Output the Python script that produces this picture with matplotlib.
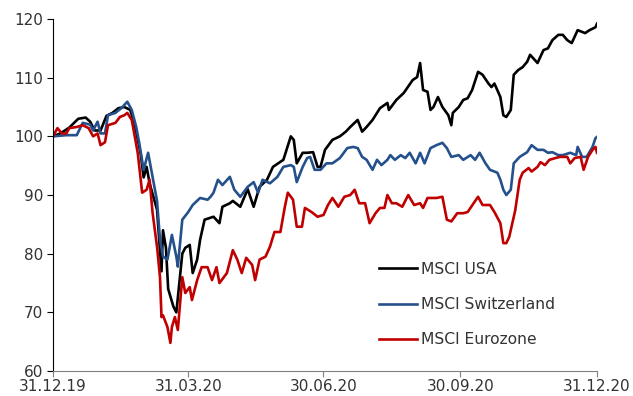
import numpy as np
import pandas as pd
import matplotlib
matplotlib.use("Agg")
import matplotlib.pyplot as plt
import matplotlib.dates as mdates

start = pd.Timestamp("2019-12-31")

# days after 31.12.19 and index level (31.12.19 = 100)
usa_days = [0, 5, 11, 17, 22, 25, 28, 32, 36, 40,
            44, 48, 52, 55, 59, 61, 63, 65, 70, 73,
            74, 76, 77.5, 81, 83, 87, 89, 92, 94, 97,
            99, 102, 108, 112, 114, 119, 121, 126, 131, 135,
            139, 144, 148, 155, 160, 162, 164, 168, 171, 175,
            178, 180, 183, 188, 193, 197, 200, 205, 208, 211,
            215, 220, 225, 226, 231, 236, 242, 245, 247, 249,
            252, 254, 256, 259, 262, 266, 268, 269, 273, 276,
            279, 282, 286, 289, 293, 295, 297, 301, 303, 305,
            308, 310, 313, 316, 319, 321, 326, 330, 333, 336,
            340, 343, 346, 349, 353, 358, 361, 365, 366]
usa = [100, 100.5, 101.5, 103, 103.2, 102.5, 101, 101, 103.5, 104,
       104.8, 105, 104.5, 102, 97, 93, 94.8, 92, 87.5, 77,
       84, 81, 74, 71, 70, 80, 81, 81.5, 76.7, 79,
       82.4, 85.8, 86.3, 85.2, 88, 88.6, 89, 88, 91, 88,
       91.4, 92.6, 94.8, 96, 100, 99.4, 95.4, 97.2, 97.2, 97.3,
       94.8, 94.8, 97.7, 99.4, 100, 100.8, 101.6, 102.8, 100.8, 101.6,
       102.8, 104.8, 105.7, 104.5, 106.2, 107.4, 109.6, 110.1, 112.5, 107.9,
       107.6, 104.5, 105, 106.7, 105, 103.6, 101.9, 104, 105, 106.2,
       106.5, 107.9, 111, 110.5, 109, 108.4, 109, 106.7, 103.6, 103.3,
       104.5, 110.5, 111.3, 111.8, 112.7, 113.9, 112.5, 114.7, 115, 116.4,
       117.3, 117.3, 116.4, 115.9, 118.1, 117.6, 118.1, 118.6, 119.2]

swiss_days = [0, 9, 16, 20, 25, 27, 30, 32, 35, 37,
              42, 46, 50, 53, 56, 58, 61, 64, 67, 70,
              72, 74, 77, 80, 83, 84, 87, 91, 94, 99,
              104, 106, 108, 111, 114, 119, 122, 126, 131,
              135, 138, 141, 146, 151, 155, 160, 162, 164, 168,
              171, 173, 176, 180, 184, 188, 193, 198, 202, 205,
              208, 211, 215, 218, 221, 225, 227, 230, 234, 237,
              240, 244, 247, 250, 254, 258, 262, 265, 268, 273,
              276, 281, 284, 287, 291, 294, 299, 301, 303, 305,
              308, 310, 314, 319, 322, 326, 330, 333, 336, 340,
              343, 348, 352, 353, 356, 359, 363, 365, 366]
swiss = [100, 100.2, 100.2, 102.3, 102, 101, 102.5, 100.5, 100.5, 103.6,
         104, 104.8, 105.9, 104.5, 101.6, 98.9, 94.3, 97.2, 93.1, 89,
         82.4, 79.5, 79, 83.2, 79.5, 77.8, 85.8, 87.1, 88.3, 89.5,
         89.2, 89.7, 90.4, 92.6, 91.7, 93.1, 90.9, 89.7, 91.4,
         92.2, 90.4, 92.6, 92, 93.1, 94.8, 95.1, 94.8, 92.2, 94.8,
         96.3, 96.5, 94.3, 94.3, 95.4, 95.4, 96.3, 98, 98.2, 98,
         96.5, 96, 94.3, 96, 95.1, 96, 96.8, 96, 96.8, 96.3,
         97.2, 95.4, 97.2, 95.4, 98, 98.5, 98.9, 98, 96.5, 96.8,
         96, 96.8, 96, 97.2, 95.4, 94.3, 93.8, 92.6, 90.9, 90,
         90.9, 95.4, 96.5, 97.3, 98.5, 97.7, 97.7, 97.2, 97.3, 96.8,
         96.8, 97.2, 96.8, 98.2, 96.5, 96.5, 98.2, 99.7, 99.9]

euro_days = [0, 3, 6, 9, 11, 16, 20, 24, 27, 30,
             32, 35, 37, 42, 45, 48, 50, 53, 55, 57,
             60, 63, 65, 67, 70, 72, 73, 74, 77, 79,
             80, 82, 84, 87, 89, 92, 93.5, 97, 100, 104,
             107, 110, 112, 117, 121, 124, 127, 130, 134, 136,
             139, 143, 146, 149, 153, 156, 158, 161.5, 164, 167.5,
             169.5, 174, 178, 182, 185, 188, 192, 196, 200, 203,
             206, 210, 213, 217, 220, 223, 225, 228, 231, 235,
             239, 243, 247, 249, 252, 258, 262, 265, 268, 272,
             276, 279, 283, 286, 289, 294, 297, 301, 303, 305,
             307, 311, 314, 316, 320, 322, 326, 328, 331, 334,
             338, 341, 346, 348, 351, 355, 357, 360, 363, 365, 366]
euro = [100, 101.4, 100.5, 100.5, 101.4, 101.6, 101.9, 101.4, 100, 100.5,
        98.5, 99, 101.9, 102.3, 103.3, 103.6, 104, 102.8, 100, 97.2,
        90.4, 90.9, 92.6, 87, 81.2, 76, 69.2, 69.5, 67.5, 64.8,
        67.5, 69.2, 67, 76, 73.3, 74.3, 72.1, 75.5, 77.7, 77.7,
        75.5, 77.7, 75, 76.7, 80.6, 79, 76.7, 79.3, 78.1, 75.5,
        79, 79.5, 81.2, 83.7, 83.7, 88, 90.4, 89.2, 84.6, 84.6,
        87.8, 87.1, 86.3, 86.6, 88.3, 89.5, 88, 89.7, 90, 90.9,
        88.6, 88.6, 85.2, 86.9, 87.8, 87.8, 90, 88.6, 88.6, 88,
        90, 88.3, 88.6, 87.8, 89.5, 89.5, 89.7, 85.8, 85.5, 86.9,
        86.9, 87.1, 88.6, 89.7, 88.3, 88.3, 87.1, 85.2, 81.8, 81.8,
        82.9, 87.4, 92.6, 93.8, 94.6, 94, 94.8, 95.6, 95.1, 96,
        96.3, 96.5, 96.5, 95.4, 96.3, 96.5, 94.3, 96.5, 97.7, 98.2, 97.2]

tick_dates = ["2019-12-31", "2020-03-31", "2020-06-30", "2020-09-30", "2020-12-31"]


def to_dates(days):
    return start + pd.to_timedelta(np.array(days, dtype=float), unit="D")


plt.rcParams["font.family"] = "DejaVu Sans"
fig = plt.figure(figsize=(6.33, 3.96), dpi=100)
ax = fig.add_axes([0.0837, 0.063, 0.8594, 0.889])

ax.plot(to_dates(usa_days), usa, color="black", lw=1.9, label="MSCI USA")
ax.plot(to_dates(swiss_days), swiss, color="#24508C", lw=1.9, label="MSCI Switzerland")
ax.plot(to_dates(euro_days), euro, color="#C00000", lw=1.9, label="MSCI Eurozone")

ax.set_ylim(60, 120)
ax.set_yticks(range(60, 121, 10))
ax.set_xlim(pd.Timestamp(tick_dates[0]), pd.Timestamp(tick_dates[-1]))
ax.set_xticks([pd.Timestamp(d) for d in tick_dates])
ax.xaxis.set_major_formatter(mdates.DateFormatter("%d.%m.%y"))

for s in ["top", "right"]:
    ax.spines[s].set_visible(False)
ax.spines["left"].set_color("#000000")
ax.spines["bottom"].set_color("#808080")
ax.tick_params(axis="both", direction="out", length=4, labelsize=11,
               labelcolor="#333333", color="#808080", pad=2)
ax.tick_params(axis="y", color="#000000", pad=3)

ax.legend(loc="upper left", bbox_to_anchor=(0.6, 0.31), frameon=False,
          fontsize=11.2, handlelength=2.4, handletextpad=0.25,
          labelspacing=1.3, borderpad=0, borderaxespad=0,
          labelcolor="#333333")

fig.savefig("out.png", dpi=100)
